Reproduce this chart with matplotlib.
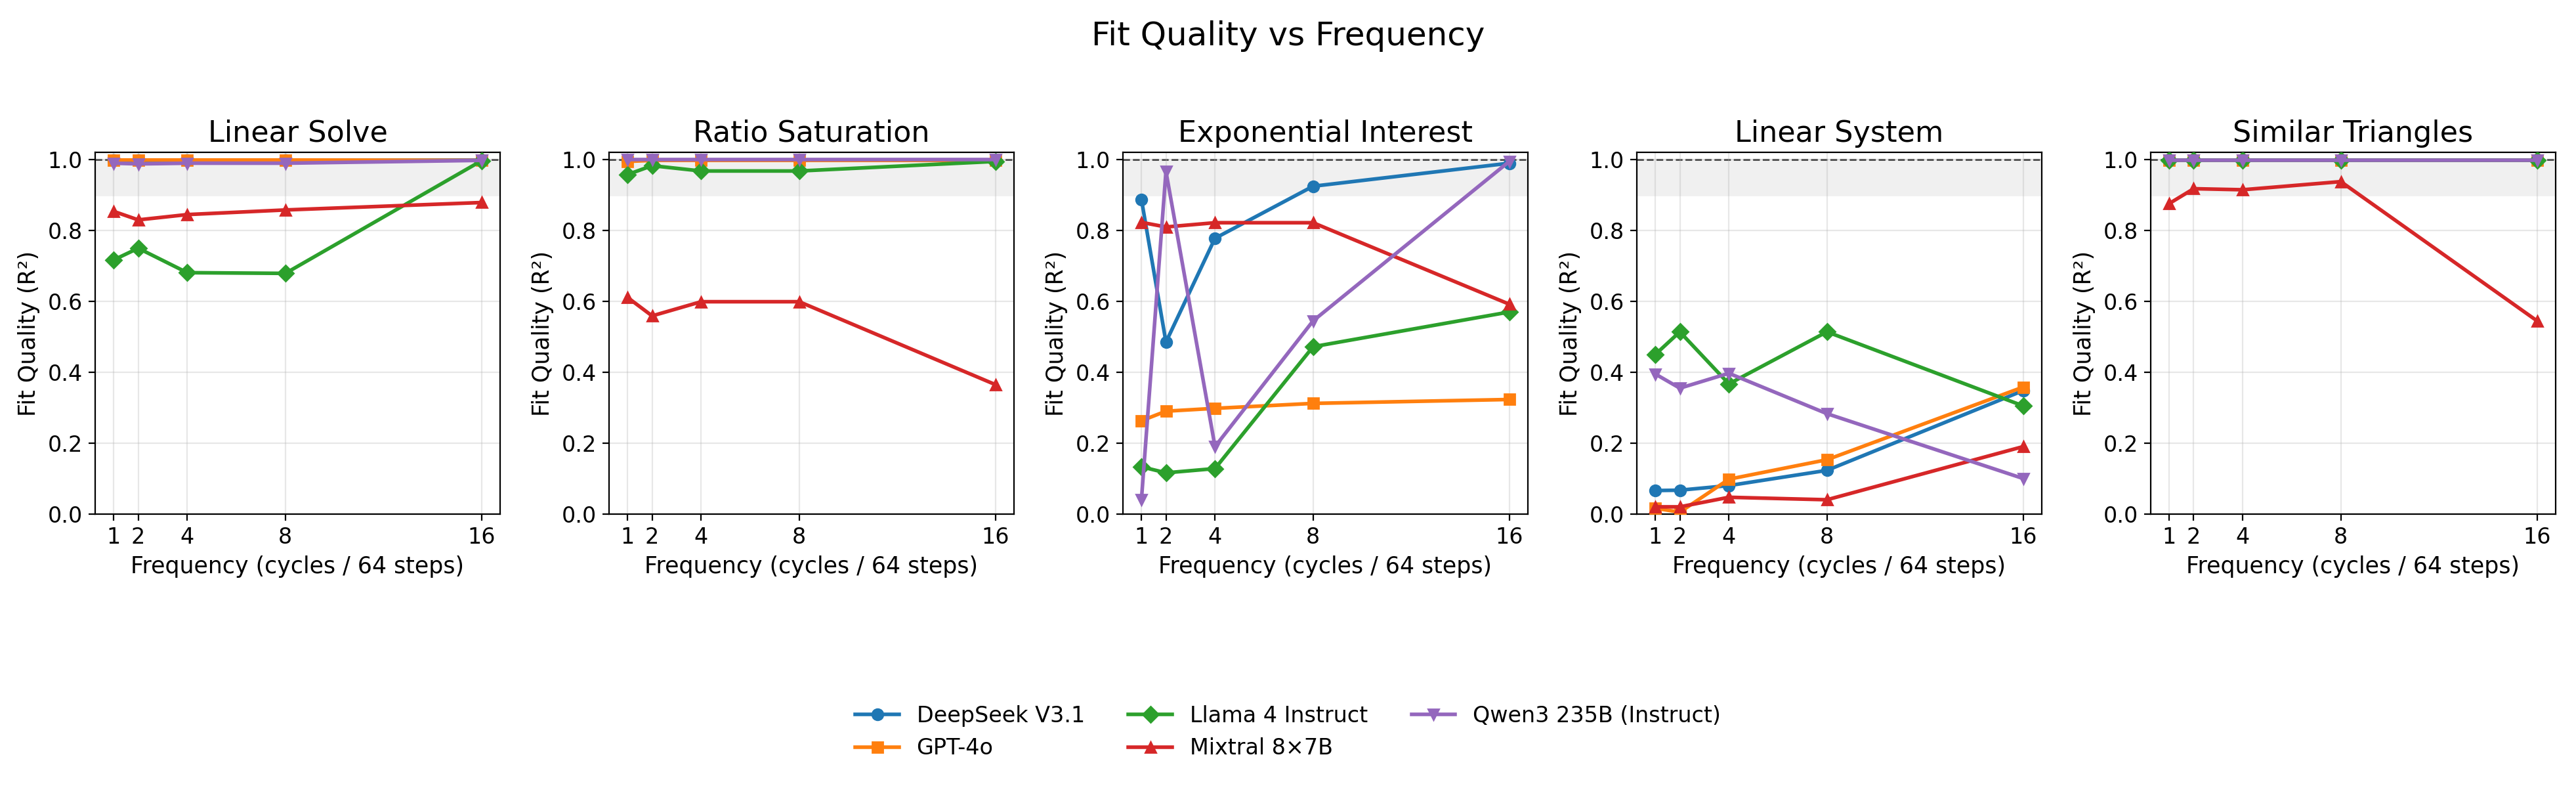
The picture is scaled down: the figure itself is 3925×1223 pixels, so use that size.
import matplotlib
matplotlib.use("Agg")
import matplotlib.pyplot as plt
import numpy as np

freqs = [1, 2, 4, 8, 16]
tasks = ["Linear Solve", "Ratio Saturation", "Exponential Interest", "Linear System", "Similar Triangles"]
models = ["DeepSeek V3.1", "GPT-4o", "Llama 4 Instruct", "Mixtral 8×7B", "Qwen3 235B (Instruct)"]
markers = ["o", "s", "D", "^", "v"]
colors = ["#1f77b4", "#ff7f0e", "#2ca02c", "#d62728", "#9467bd"]

# r2[task][model]
r2 = {
    "Linear Solve": [
        [0.998, 0.998, 0.998, 0.998, 0.999],
        [0.999, 0.999, 0.999, 0.999, 0.998],
        [0.717, 0.750, 0.681, 0.679, 0.997],
        [0.854, 0.830, 0.845, 0.858, 0.879],
        [0.990, 0.988, 0.990, 0.990, 0.998],
    ],
    "Ratio Saturation": [
        [0.999, 0.999, 0.999, 0.999, 0.999],
        [0.995, 0.998, 0.998, 0.998, 0.998],
        [0.958, 0.983, 0.968, 0.968, 0.995],
        [0.611, 0.559, 0.599, 0.599, 0.365],
        [1.000, 1.000, 1.000, 1.000, 1.000],
    ],
    "Exponential Interest": [
        [0.888, 0.485, 0.778, 0.925, 0.990],
        [0.263, 0.290, 0.298, 0.312, 0.323],
        [0.133, 0.116, 0.128, 0.472, 0.570],
        [0.823, 0.810, 0.822, 0.822, 0.592],
        [0.040, 0.967, 0.190, 0.545, 0.995],
    ],
    "Linear System": [
        [0.066, 0.067, 0.080, 0.123, 0.348],
        [0.016, 0.005, 0.098, 0.153, 0.358],
        [0.450, 0.514, 0.367, 0.514, 0.305],
        [0.020, 0.020, 0.047, 0.040, 0.190],
        [0.395, 0.355, 0.397, 0.283, 0.100],
    ],
    "Similar Triangles": [
        [0.999, 0.999, 0.999, 0.999, 0.999],
        [0.999, 0.999, 0.999, 0.999, 0.999],
        [0.999, 0.999, 0.999, 0.999, 0.999],
        [0.876, 0.918, 0.915, 0.938, 0.545],
        [0.999, 0.999, 0.999, 0.999, 0.999],
    ],
}

fig, axes = plt.subplots(1, 5, figsize=(19.625, 6.115), dpi=200)
for ax, task in zip(axes, tasks):
    ax.axhspan(0.9, 1.0, color="#f0f0f0", zorder=0)
    ax.axhline(1.0, color="#333333", ls="--", lw=1, zorder=1)
    for i, m in enumerate(models):
        ax.plot(freqs, r2[task][i], marker=markers[i], color=colors[i], lw=2,
                markersize=6, label=m, zorder=3)
    ax.set_title(task, fontsize=16)
    ax.set_xticks(freqs)
    ax.set_ylim(0, 1.02)
    ax.set_xlabel("Frequency (cycles / 64 steps)", fontsize=12.5)
    ax.set_ylabel("Fit Quality (R²)", fontsize=12.5)
    ax.tick_params(labelsize=12)
    ax.grid(True, alpha=0.3)

fig.suptitle("Fit Quality vs Frequency", fontsize=18, y=0.975)
handles, labels = axes[0].get_legend_handles_labels()
fig.legend(handles, labels, loc="lower center", ncol=3, frameon=False,
           fontsize=12, bbox_to_anchor=(0.5, 0.03))
fig.subplots_adjust(left=0.037, right=0.992, top=0.81, bottom=0.36, wspace=0.27)
fig.savefig("out.png", dpi=200)
